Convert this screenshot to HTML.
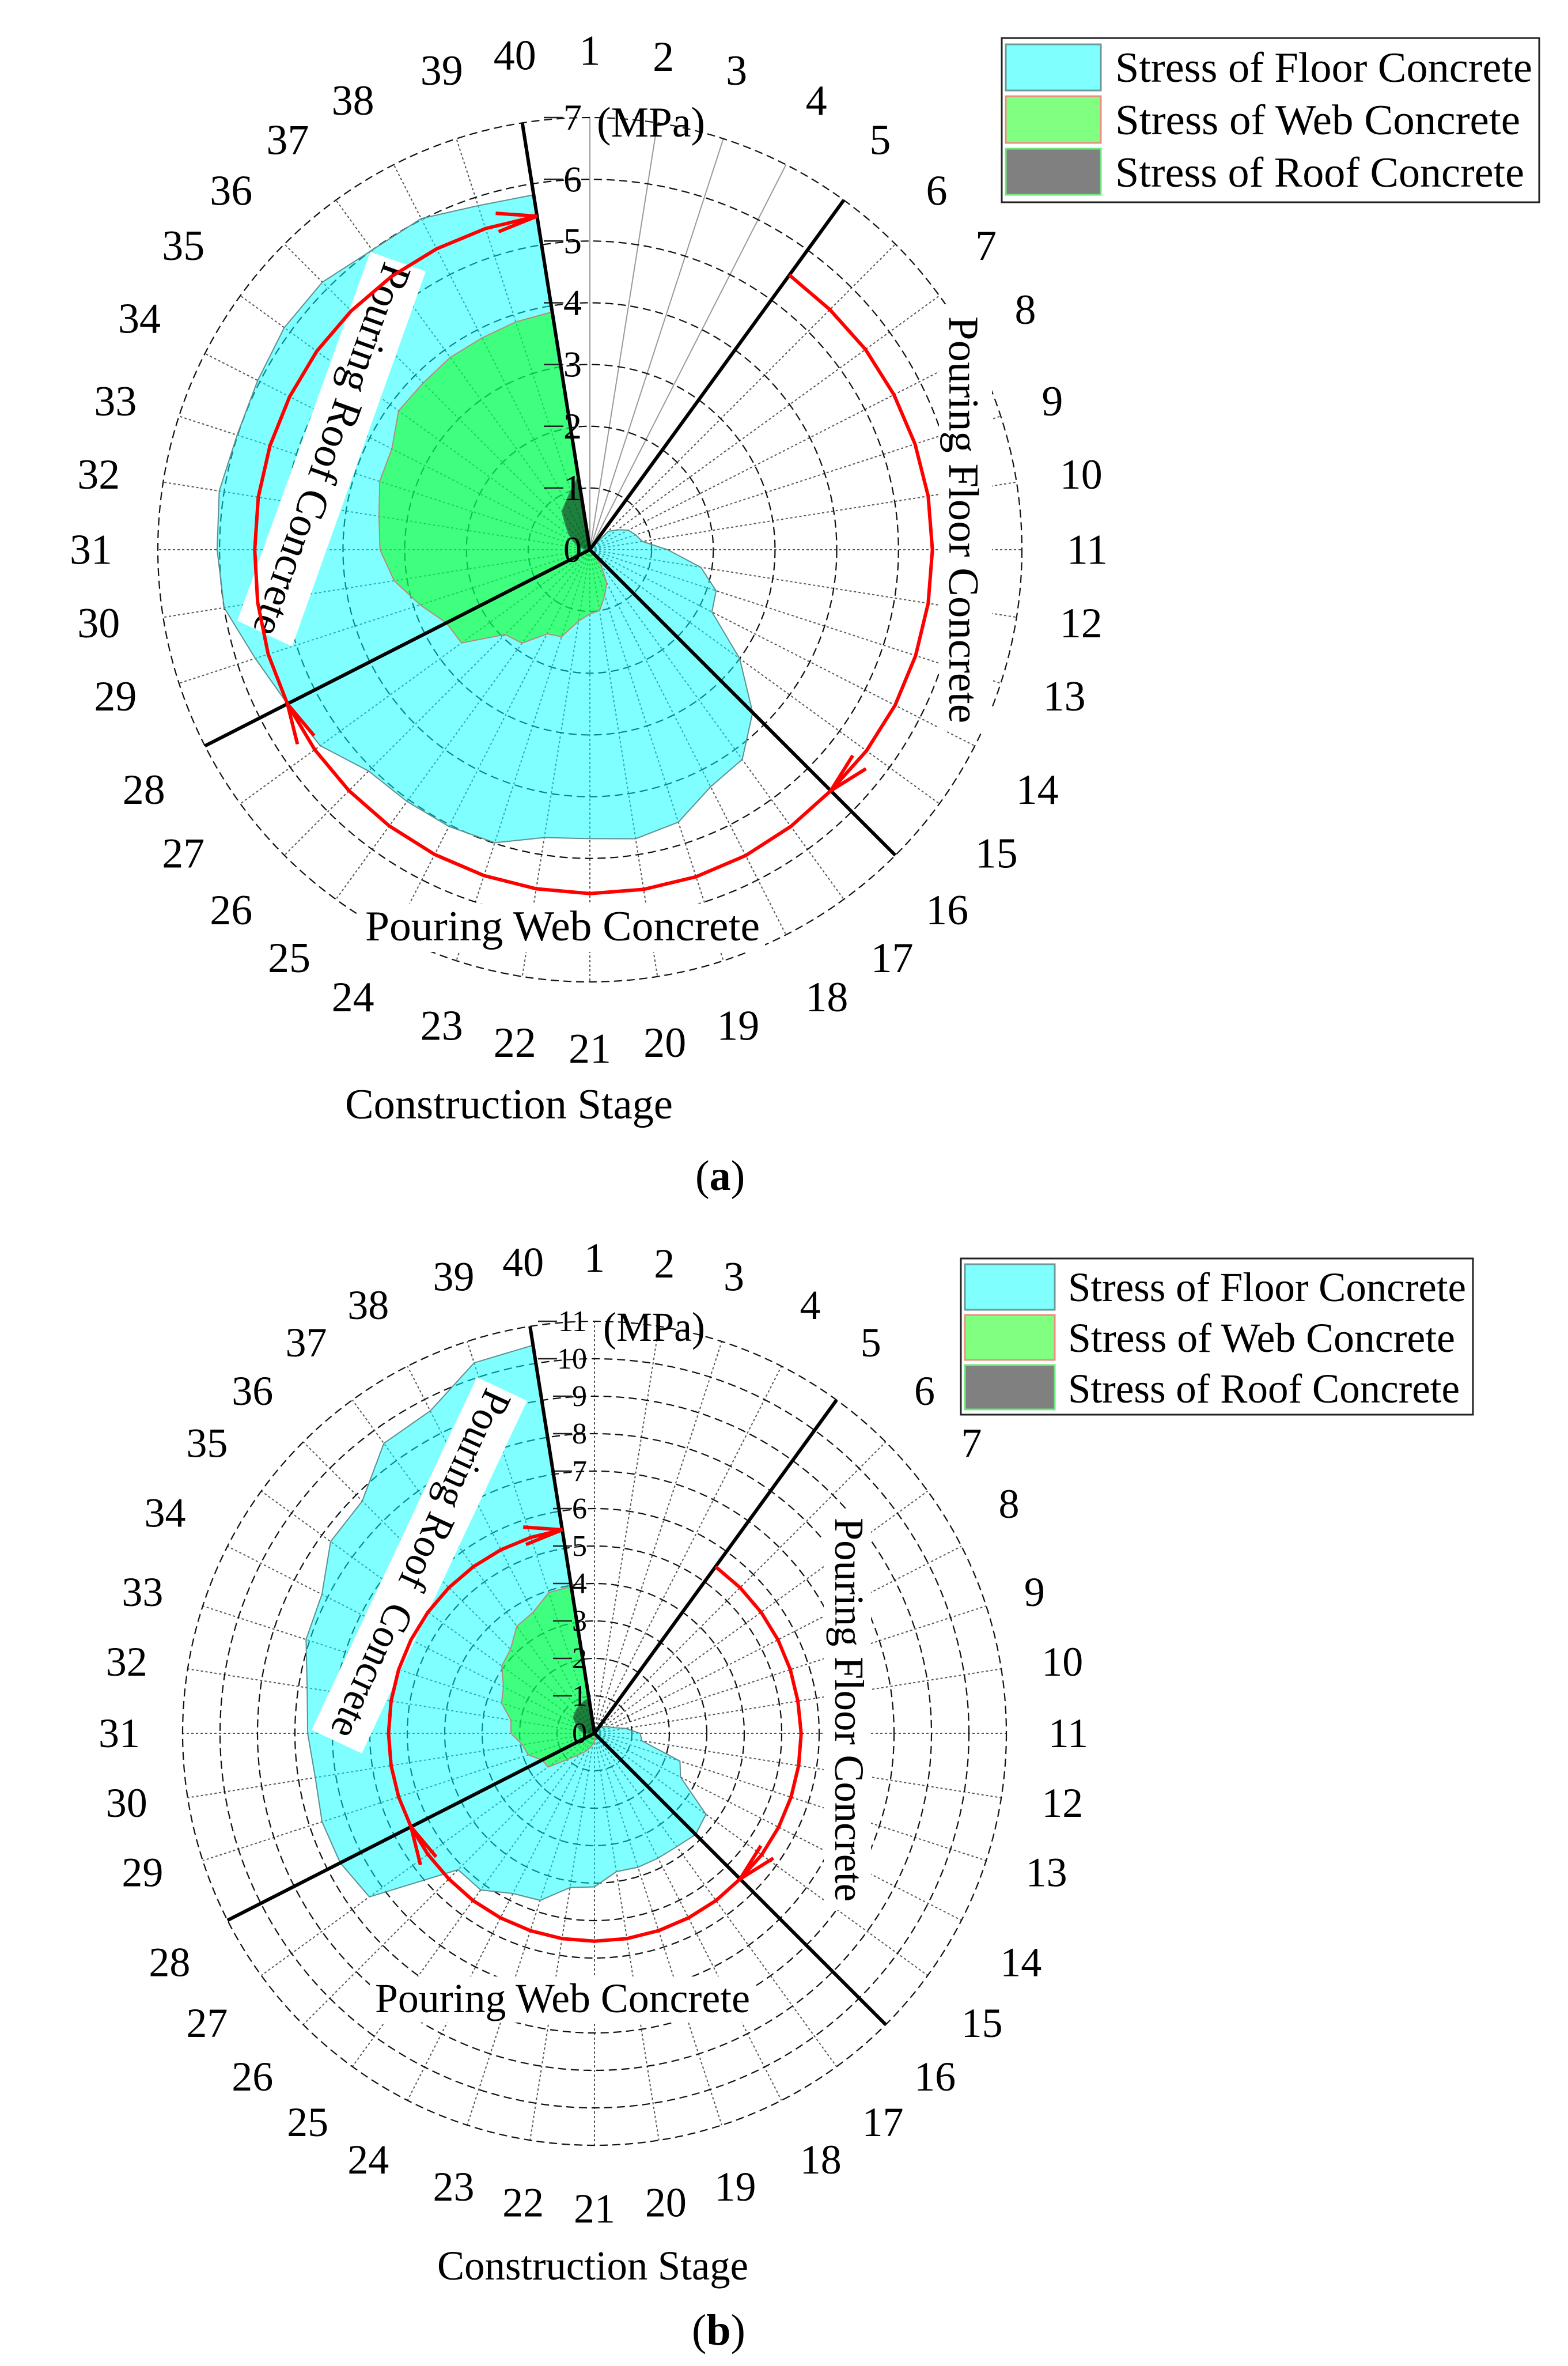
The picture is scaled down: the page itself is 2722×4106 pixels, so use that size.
<!DOCTYPE html>
<html lang="en">
<head>
<meta charset="utf-8">
<title>Concrete stress by construction stage</title>
<style>
html,body{margin:0;padding:0;background:#fff;width:2722px;height:4106px;overflow:hidden}
svg{position:absolute;left:0;top:0;display:block}
text{font-family:"Liberation Serif",serif;fill:#000}
</style>
</head>
<body>
<svg id="figure" xmlns="http://www.w3.org/2000/svg" width="2722" height="4106" viewBox="0 0 2722 4106">
  <rect x="0" y="0" width="2722" height="4106" fill="#fff"/>

  <g id="panel-a"></g>
  <g id="panel-a-annotations">
    <rect x="1630" y="528" width="92" height="740" fill="#fff"/>
    <text transform="translate(1648,549) rotate(90)" font-size="74" textLength="706" lengthAdjust="spacingAndGlyphs">Pouring Floor Concrete</text>
    <rect x="625" y="1568" width="703" height="84" fill="#fff"/>
    <text x="634" y="1632" font-size="74" textLength="685" lengthAdjust="spacingAndGlyphs">Pouring Web Concrete</text>
    <polygon points="643,437 739,471 507,1122 412,1077" fill="#fff"/>
    <text transform="translate(668,452) rotate(109.7)" font-size="74" textLength="681" lengthAdjust="spacingAndGlyphs">Pouring Roof Concrete</text>
    <text x="1036" y="237" font-size="74" textLength="188" lengthAdjust="spacingAndGlyphs">(MPa)</text>
    <text x="599" y="1941" font-size="74" textLength="569" lengthAdjust="spacingAndGlyphs">Construction Stage</text>
    <text x="1207" y="2065" font-size="74">(<tspan font-weight="bold">a</tspan>)</text>
  </g>
  <g id="panel-a-red"></g>

  <g>
    <rect x="1739" y="66" width="933" height="285" fill="#fff" stroke="#222" stroke-width="3"/>
    <rect x="1746" y="77" width="165" height="80" fill="#80ffff" stroke="#6a9a9a" stroke-width="3"/>
    <rect x="1746" y="167" width="165" height="81" fill="#80ff80" stroke="#e89080" stroke-width="3"/>
    <rect x="1746" y="258" width="165" height="80" fill="#808080" stroke="#70e880" stroke-width="3"/>
    <text x="1936" y="142" font-size="74" textLength="724" lengthAdjust="spacingAndGlyphs">Stress of Floor Concrete</text>
    <text x="1936" y="233" font-size="74" textLength="703" lengthAdjust="spacingAndGlyphs">Stress of Web Concrete</text>
    <text x="1936" y="324" font-size="74" textLength="710" lengthAdjust="spacingAndGlyphs">Stress of Roof Concrete</text>
  </g>

  <g id="panel-b"></g>
  <g id="panel-b-annotations">
    <rect x="1430" y="2620" width="82" height="695" fill="#fff"/>
    <text transform="translate(1450,2634) rotate(90)" font-size="72" textLength="666" lengthAdjust="spacingAndGlyphs">Pouring Floor Concrete</text>
    <rect x="642" y="3430" width="668" height="80" fill="#fff"/>
    <text x="651" y="3492" font-size="72" textLength="651" lengthAdjust="spacingAndGlyphs">Pouring Web Concrete</text>
    <polygon points="828,2390 915,2431 628,3043 541,3002" fill="#fff"/>
    <text transform="translate(845,2406) rotate(114.5)" font-size="72" textLength="656" lengthAdjust="spacingAndGlyphs" xml:space="preserve">Pouring Roof  Concrete</text>
    <text x="1047" y="2327" font-size="72" textLength="177" lengthAdjust="spacingAndGlyphs">(MPa)</text>
    <text x="759" y="3956" font-size="72" textLength="540" lengthAdjust="spacingAndGlyphs">Construction Stage</text>
    <text x="1201" y="4069" font-size="76">(<tspan font-weight="bold">b</tspan>)</text>
  </g>
  <g id="panel-b-red"></g>

  <g>
    <rect x="1668" y="2184" width="889" height="271" fill="#fff" stroke="#222" stroke-width="3"/>
    <rect x="1675" y="2194" width="156" height="79" fill="#80ffff" stroke="#6a9a9a" stroke-width="3"/>
    <rect x="1675" y="2282" width="156" height="78" fill="#80ff80" stroke="#e89080" stroke-width="3"/>
    <rect x="1675" y="2369" width="156" height="77" fill="#808080" stroke="#70e880" stroke-width="3"/>
    <text x="1854" y="2258" font-size="72" textLength="691" lengthAdjust="spacingAndGlyphs">Stress of Floor Concrete</text>
    <text x="1854" y="2346" font-size="72" textLength="672" lengthAdjust="spacingAndGlyphs">Stress of Web Concrete</text>
    <text x="1854" y="2434" font-size="72" textLength="680" lengthAdjust="spacingAndGlyphs">Stress of Roof Concrete</text>
  </g>
</svg>

<script>
// Categories: construction stages, clockwise from the top of each polar chart.
const stages = [1,2,3,4,5,6,7,8,9,10,11,12,13,14,15,16,17,18,19,20,21,22,23,24,25,26,27,28,29,30,31,32,33,34,35,36,37,38,39,40];

// Radial tick labels (MPa).
const ticksA = [0,1,2,3,4,5,6,7];
const ticksB = [0,1,2,3,4,5,6,7,8,9,10,11];

// Panel (a) stress per stage (MPa).
const floorStressA = [0,0,0,0,0,0.42,0.55,0.7,0.78,0.86,1.26,1.82,2.15,2.22,3.0,3.73,4.2,4.31,4.64,4.74,4.68,4.72,4.99,5.03,5.04,5.07,5.4,5.5,5.7,6.0,6.04,6.08,6.01,6.04,6.12,6.13,6.0,6.02,5.86,5.82];
const webStressA = [0,0,0,0,0,0,0,0,0,0,0,0,0,0,0,0,0.3,0.6,0.78,1.0,1.04,1.17,1.48,1.53,1.87,1.94,2.57,2.61,2.89,3.21,3.4,3.46,3.58,3.6,3.83,3.82,3.85,3.85,3.88,3.9];
const roofStressA = [0,0,0,0,0,0,0,0,0,0,0,0,0,0,0,0,0,0,0,0,0,0,0,0,0,0,0,0,0,0,0.05,0.1,0.2,0.3,0.42,0.55,0.77,0.86,1.0,1.2];

// Panel (b) stress per stage (MPa).
const floorStressB = [0,0,0,0,0,0.2,0.3,0.4,0.5,0.84,1.22,1.28,2.4,2.58,3.68,3.82,3.74,3.74,3.76,3.74,4.1,4.17,4.69,4.8,5.17,5.15,7.43,7.62,7.65,7.55,7.66,7.77,8.1,8.17,8.71,8.77,9.57,9.66,10.4,10.49];
const webStressB = [0,0,0,0,0,0,0,0,0,0,0,0,0,0,0,0,0,0,0,0.1,0.25,0.3,0.42,0.55,0.7,0.97,1.53,1.57,1.86,1.95,2.23,2.26,2.61,2.73,3.06,3.17,3.53,3.62,3.95,3.97];
const roofStressB = [0,0,0,0,0,0,0,0,0,0,0,0,0,0,0,0,0,0,0,0,0,0,0,0,0,0,0,0,0,0.1,0.3,0.35,0.45,0.55,0.7,0.75,0.8,0.85,0.9,0.95];

// Phase boundaries: heavy radial lines at these stages.
const phaseStages = [5,16,28,40];
// Stages where the sequence arc carries an arrowhead.
const arrowStages = [16,28,40];
// Stress level followed by the sequence arc for stages 5 to 40 (MPa).
const arcLevelsA = [5.5,5.5,5.52,5.53,5.54,5.55,5.55,5.55,5.55,5.55,5.54,5.52,5.54,5.56,5.57,5.57,5.57,5.56,5.55,5.54,5.53,5.52,5.51,5.5,5.48,5.45,5.43,5.44,5.45,5.46,5.47,5.47,5.47,5.47,5.47,5.47];
const arcLevelsB = [5.5,5.5,5.5,5.5,5.5,5.5,5.52,5.52,5.52,5.52,5.52,5.5,5.52,5.53,5.54,5.55,5.55,5.55,5.54,5.53,5.52,5.5,5.5,5.5,5.5,5.5,5.5,5.5,5.5,5.5,5.5,5.5,5.5,5.5,5.5,5.5];

const SVGNS = 'http://www.w3.org/2000/svg';

function makeSvg(tag, parent) {
  const el = document.createElementNS(SVGNS, tag);
  parent.appendChild(el);
  return el;
}

function stageAngle(stage) {
  return (stage - 1) * 9 * Math.PI / 180;
}

function polarPoint(p, stage, value) {
  const r = value * p.unit;
  const t = stageAngle(stage);
  return [p.cx + r * Math.sin(t), p.cy - r * Math.cos(t)];
}

function seriesPoints(p, values) {
  return values.map(function (v, i) {
    return polarPoint(p, stages[i], v).map(function (n) { return n.toFixed(1); }).join(',');
  }).join(' ');
}

// Small layout correction: the plotted stage labels are snapped unevenly around the
// circle, so each label's offset from its ideal polar position is derived per octant.
function labelOffset(stage) {
  const dx = {2:-3,3:-5,5:-2,6:-4,7:-5,8:-6,9:-8,10:-1,11:-1,12:-1,14:2,15:2,16:3,17:6,18:7,19:-4,20:-2,22:2,23:4,24:-7,25:-5,26:-4,27:-2,28:-1,30:1,32:1,34:-4,35:-2,36:-4,37:-6,38:-7,39:4,40:2};
  const dy = {3:-3,4:-3,5:-4,6:-4,7:-7,8:-9,9:4,10:2,12:-3,13:-5,14:9,15:7,16:5,17:3,18:2,19:1,23:1,24:2,25:3,26:5,27:7,28:9,29:-5,30:-3,32:2,33:4,34:-3,35:-7,36:-4,37:-4,38:-3,39:-3,40:-1};
  return [(dx[stage] || 0) * 2.6, (dy[stage] || 0) * 2.6];
}

function drawGrid(p, root, ticks) {
  const maxV = ticks[ticks.length - 1];
  stages.forEach(function (s) {
    const end = polarPoint(p, s, maxV);
    const spoke = makeSvg('line', root);
    
    
    spoke.setAttribute('x1', p.cx);
    spoke.setAttribute('y1', p.cy);
    spoke.setAttribute('x2', end[0]);
    spoke.setAttribute('y2', end[1]);
    if (s <= p.solidSpokes) {
      spoke.setAttribute('stroke', '#9a9a9a');
      spoke.setAttribute('stroke-width', '2');
    } else {
      spoke.setAttribute('stroke', '#555');
      spoke.setAttribute('stroke-width', '2');
      spoke.setAttribute('stroke-dasharray', '4 4');
    }
  });
  ticks.forEach(function (v) {
    if (v === 0) return;
    const ring = makeSvg('circle', root);
    
    
    ring.setAttribute('cx', p.cx);
    ring.setAttribute('cy', p.cy);
    ring.setAttribute('r', v * p.unit);
    ring.setAttribute('fill', 'none');
    ring.setAttribute('stroke', '#111');
    ring.setAttribute('stroke-width', '2.2');
    ring.setAttribute('stroke-dasharray', '14 8');
  });
}

function drawArea(p, root, values, name, fill, edge) {
  const area = makeSvg('polygon', root);
  
  
  area.setAttribute('points', seriesPoints(p, values));
  area.setAttribute('fill', fill);
  area.setAttribute('fill-opacity', '0.5');
  area.setAttribute('stroke', edge);
  area.setAttribute('stroke-width', '2');
}

function drawPhaseLines(p, root, maxV) {
  phaseStages.forEach(function (s) {
    const end = polarPoint(p, s, maxV);
    const line = makeSvg('line', root);
    
    
    line.setAttribute('x1', p.cx);
    line.setAttribute('y1', p.cy);
    line.setAttribute('x2', end[0]);
    line.setAttribute('y2', end[1]);
    line.setAttribute('stroke', '#000');
    line.setAttribute('stroke-width', '6');
  });
}

function drawTicks(p, root, ticks) {
  ticks.forEach(function (v) {
    const y = p.cy - v * p.unit;
    const label = makeSvg('text', root);
    
    
    label.setAttribute('x', p.tickRight);
    label.setAttribute('y', y + p.tickFont * 0.33);
    label.setAttribute('font-size', p.tickFont);
    label.setAttribute('text-anchor', 'end');
    label.textContent = String(v);
    if (v === 0) return;
    const w = String(v).length * p.tickFont * 0.5;
    const tick = makeSvg('line', root);
    
    
    tick.setAttribute('x1', p.tickRight - w - p.tickLen);
    tick.setAttribute('x2', p.tickRight - w);
    tick.setAttribute('y1', y);
    tick.setAttribute('y2', y);
    tick.setAttribute('stroke', '#222');
    tick.setAttribute('stroke-width', '2.5');
  });
}

function drawStageLabels(p, root) {
  stages.forEach(function (s) {
    const t = stageAngle(s);
    const off = labelOffset(s);
    const label = makeSvg('text', root);
    
    
    label.setAttribute('x', p.cx + p.labelR * Math.sin(t) + off[0]);
    label.setAttribute('y', p.cy - p.labelR * Math.cos(t) + p.labelFont * 0.33 + off[1]);
    label.setAttribute('font-size', p.labelFont);
    label.setAttribute('text-anchor', 'middle');
    label.textContent = String(s);
  });
}

function drawSequenceArc(p, root, levels) {
  const first = phaseStages[0];
  const pts = [];
  stages.forEach(function (s) {
    if (s >= first) pts.push(polarPoint(p, s, levels[s - first]).join(','));
  });
  const arc = makeSvg('polyline', root);
  
  
  arc.setAttribute('points', pts.join(' '));
  arc.setAttribute('fill', 'none');
  arc.setAttribute('stroke', '#ff0000');
  arc.setAttribute('stroke-width', '6');

  arrowStages.forEach(function (s) {
    const tip = polarPoint(p, s, levels[s - first]);
    const t = stageAngle(s);
    const back = Math.atan2(-Math.sin(t), -Math.cos(t));
    const spread = 13 * Math.PI / 180;
    const b1 = [tip[0] + p.arrowLen * Math.cos(back + spread), tip[1] + p.arrowLen * Math.sin(back + spread)];
    const b2 = [tip[0] + p.arrowLen * Math.cos(back - spread), tip[1] + p.arrowLen * Math.sin(back - spread)];
    const head = makeSvg('polyline', root);
    
    
    head.setAttribute('points', b1.join(',') + ' ' + tip.join(',') + ' ' + b2.join(','));
    head.setAttribute('fill', 'none');
    head.setAttribute('stroke', '#ff0000');
    head.setAttribute('stroke-width', '6');
  });
}

function drawPanel(p, root, redRoot, ticks, floor, web, roof, levels) {
  drawGrid(p, root, ticks);
  drawArea(p, root, floor, 'floor-stress-area', '#00ffff', '#5f8f8f');
  drawArea(p, root, web, 'web-stress-area', '#00ff00', '#b98a78');
  drawArea(p, root, roof, 'roof-stress-area', '#000000', '#2f8f55');
  drawTicks(p, root, ticks);
  drawPhaseLines(p, root, ticks[ticks.length - 1]);
  drawStageLabels(p, root);
  drawSequenceArc(p, redRoot, levels);
}

drawPanel(
  {cx: 1024, cy: 954, unit: 107.14, solidSpokes: 4, tickRight: 1010, tickFont: 64, tickLen: 34, labelR: 866, labelFont: 74, arrowLen: 72},
  document.getElementById('panel-a'),
  document.getElementById('panel-a-red'),
  ticksA, floorStressA, webStressA, roofStressA, arcLevelsA
);
drawPanel(
  {cx: 1032, cy: 3008, unit: 65, solidSpokes: 0, tickRight: 1019, tickFont: 52, tickLen: 33, labelR: 825, labelFont: 72, arrowLen: 68},
  document.getElementById('panel-b'),
  document.getElementById('panel-b-red'),
  ticksB, floorStressB, webStressB, roofStressB, arcLevelsB
);
</script>
</body>
</html>
